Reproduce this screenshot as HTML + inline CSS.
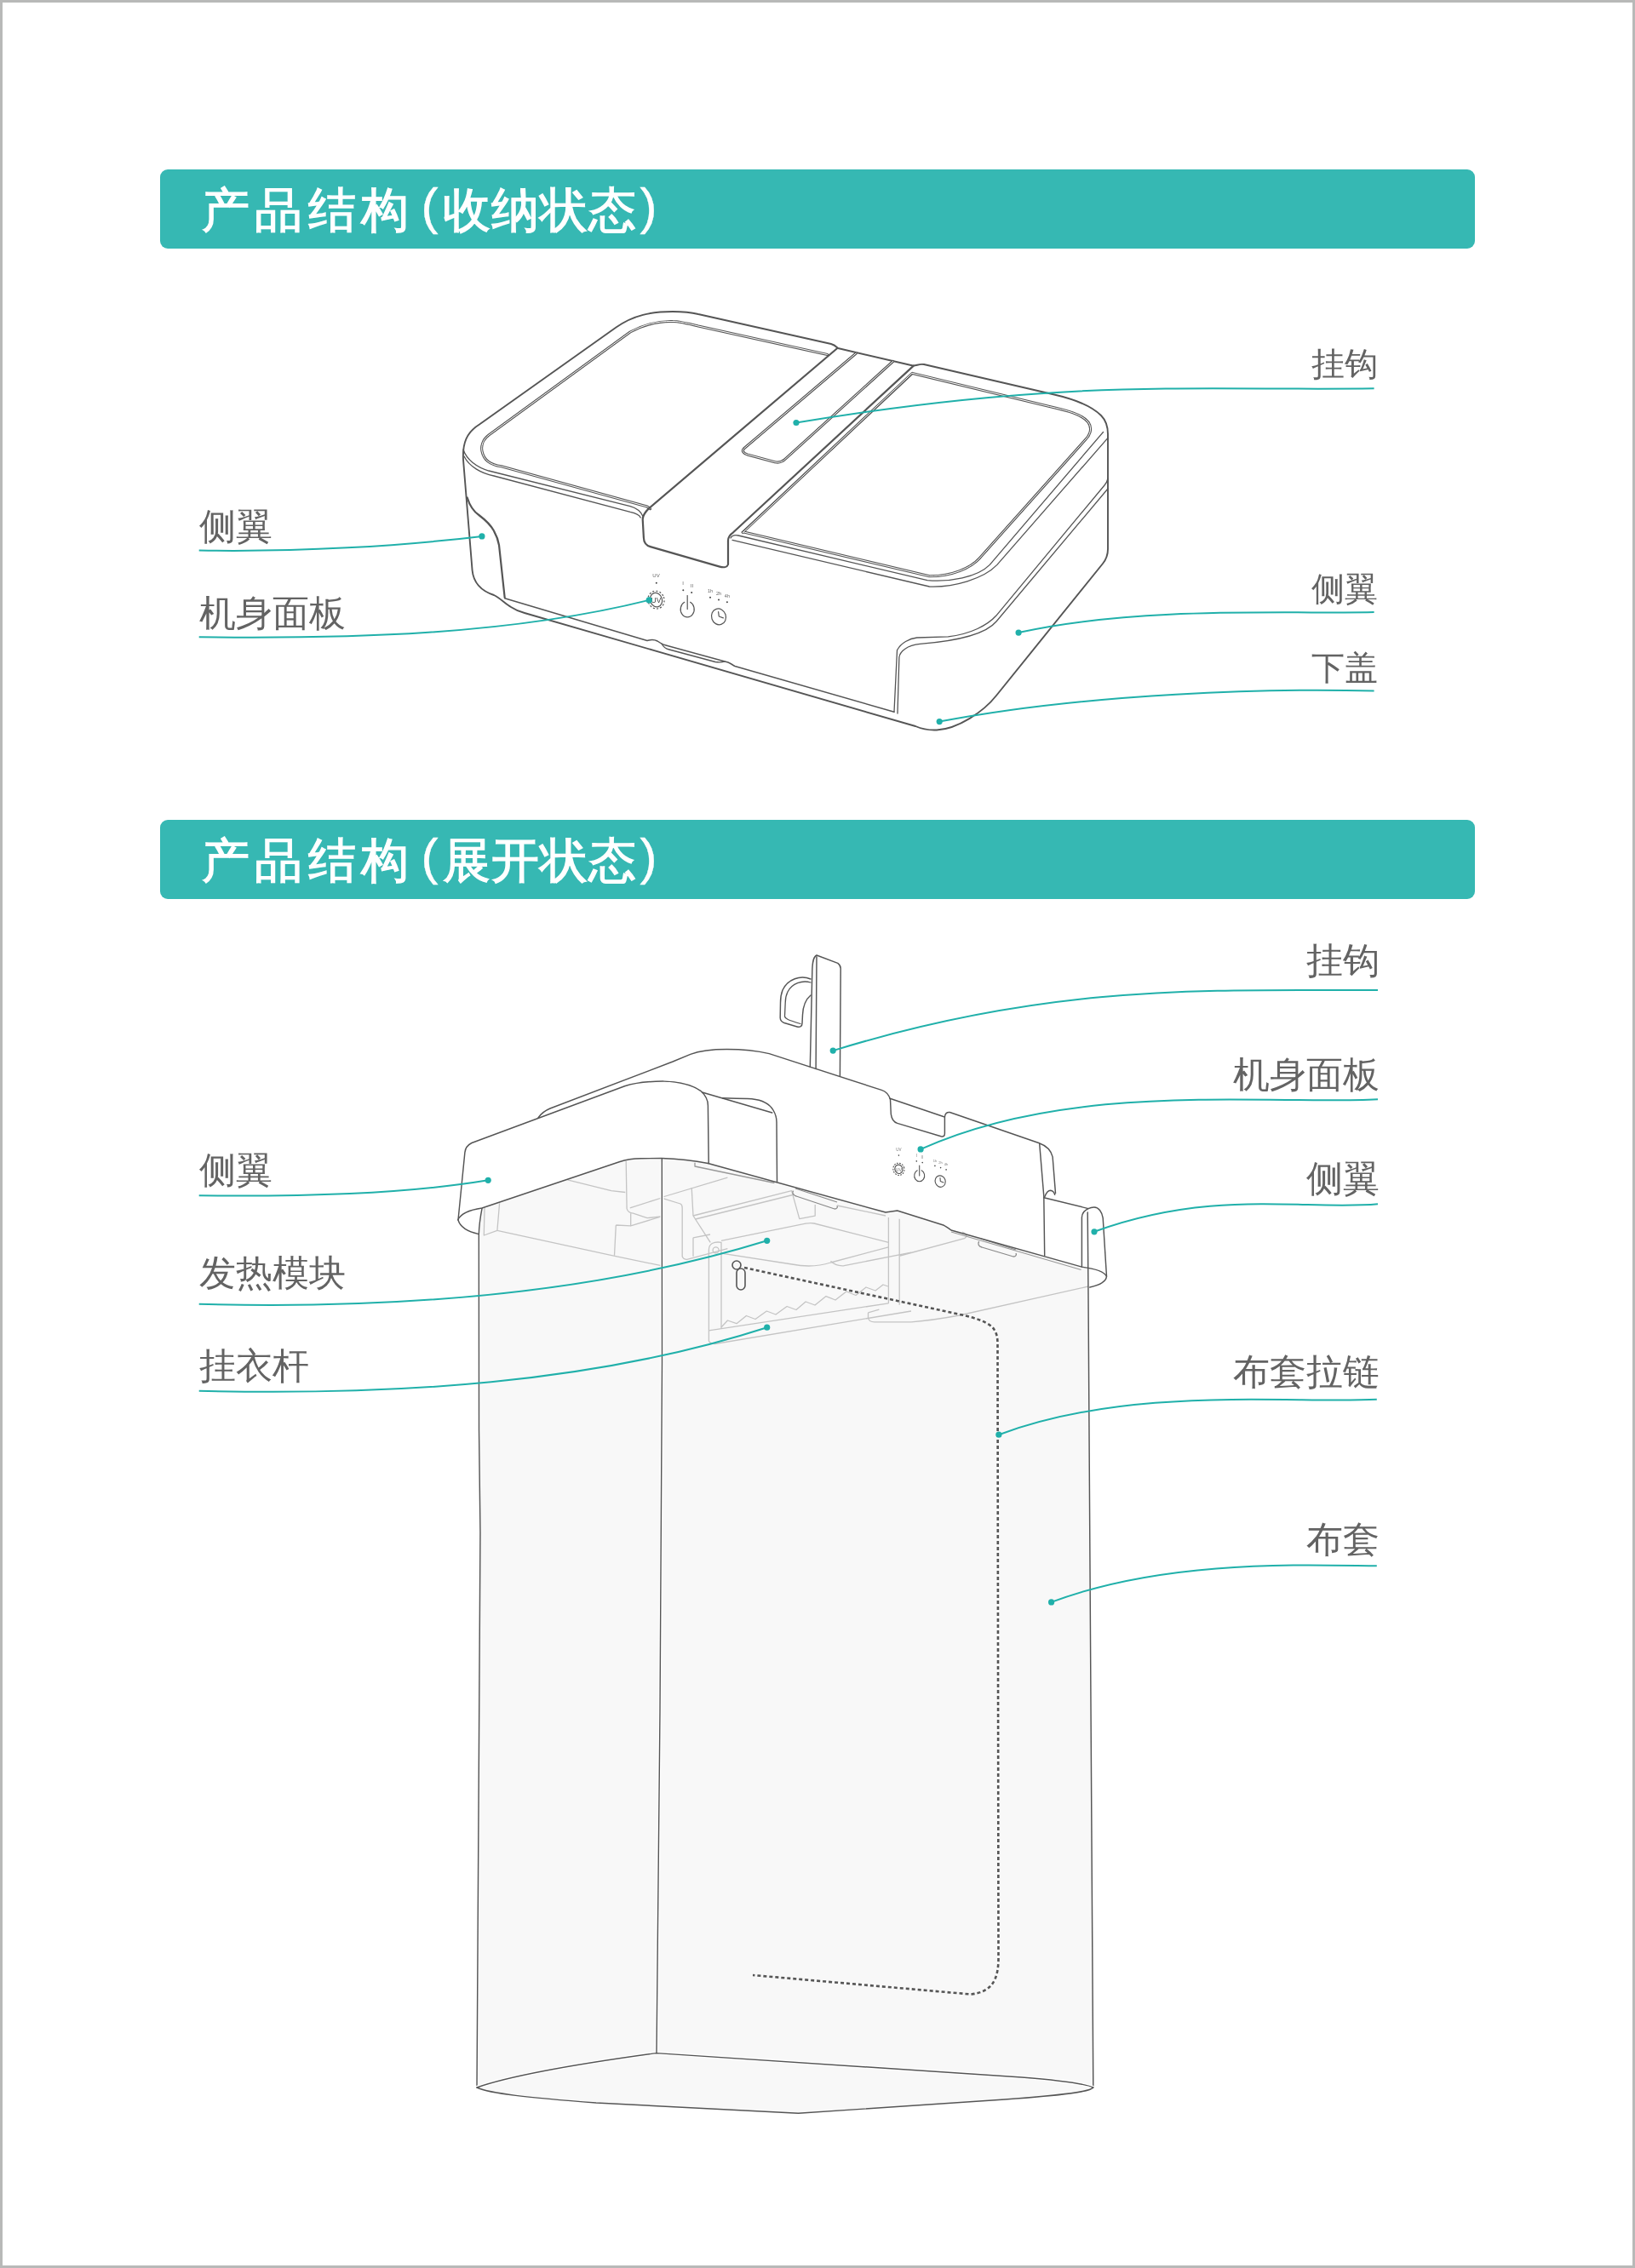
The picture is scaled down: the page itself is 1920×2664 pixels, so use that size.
<!DOCTYPE html>
<html><head><meta charset="utf-8">
<style>
html,body{margin:0;padding:0;background:#fff;}
body{width:1920px;height:2664px;position:relative;overflow:hidden;font-family:"Liberation Sans",sans-serif;}
#frame{position:absolute;left:0;top:0;width:1914px;height:2658px;border:3px solid #b8b9b8;}
.bar{position:absolute;left:188px;width:1544px;height:93px;background:#36b8b3;border-radius:9px;}
.bar span{will-change:transform;position:absolute;left:49px;top:11px;font-size:56px;line-height:72px;color:#fff;-webkit-text-stroke:1.4px #fff;white-space:nowrap;letter-spacing:6.4px;}
.bar i{font-style:normal;display:inline-block;letter-spacing:0;}
.bar .po{position:relative;top:-3px;margin-left:8px;margin-right:5px;font-size:60px;-webkit-text-stroke:0.4px #fff;}
.bar .pc{position:relative;top:-3px;margin-left:4px;font-size:60px;-webkit-text-stroke:0.4px #fff;}
.bar .g2{letter-spacing:1px;}
.lb{position:absolute;font-size:43px;line-height:50px;color:#636363;white-space:nowrap;will-change:transform;}
.r{text-align:right;}
.s39{font-size:39px;}
svg{position:absolute;left:0;top:0;}
</style></head><body>
<div id="frame"></div>
<div class="bar" style="top:199px"><span>产品结构<i class="po">(</i><i class="g2">收纳状态</i><i class="pc">)</i></span></div>
<div class="bar" style="top:963px"><span>产品结构<i class="po">(</i><i class="g2">展开状态</i><i class="pc">)</i></span></div>

<!-- fig1 labels -->
<div class="lb" style="left:234px;top:593px">侧翼</div>
<div class="lb" style="left:234px;top:695px">机身面板</div>
<div class="lb r s39" style="right:302px;top:403px">挂钩</div>
<div class="lb r s39" style="right:302px;top:667px">侧翼</div>
<div class="lb r s39" style="right:302px;top:760px">下盖</div>
<!-- fig2 labels -->
<div class="lb r" style="right:300px;top:1103px">挂钩</div>
<div class="lb r" style="right:300px;top:1237px">机身面板</div>
<div class="lb r" style="right:300px;top:1359px">侧翼</div>
<div class="lb r" style="right:300px;top:1586px">布套拉链</div>
<div class="lb r" style="right:300px;top:1783px">布套</div>
<div class="lb" style="left:234px;top:1349px">侧翼</div>
<div class="lb" style="left:234px;top:1470px">发热模块</div>
<div class="lb" style="left:234px;top:1579px">挂衣杆</div>

<svg width="1920" height="2664" viewBox="0 0 1920 2664">

<g fill="none" stroke="#555" stroke-width="1.45" stroke-linejoin="round" stroke-linecap="round">
<!-- outer silhouette -->
<path stroke-width="1.9" d="M563,498.5 C548,508 543,520 544,540 L554.6,670 C556,684 565,694 580,699 C588,703 593,709 600,713 C606,717 610,718.5 616,720 L1075,853 C1082,856 1090,858 1100,857.5 C1125,856 1155,836 1170,817 L1295,662 C1299,657 1301,652 1301,645 L1301,510 C1301,501 1299,494 1293,488 C1282,477 1262,469 1238,463.5 L1085,428 C1079,427 1076,430 1072,429.5 L984,409 C982,407 980,405 976,404 L820,369 C812,367 802,366 790,366 C765,366 744,370 723.5,384.5 Z"/>
<!-- rim lower edges left -->
<path d="M544,528 C548,540 560,549 574,553 L740,594.7 C748,597 752,600 754.7,606" stroke-width="1.3"/>
<path d="M545,536 C551,548 565,556 580,559 L740,601.4 C747,603 751,605 752.2,608" stroke-width="1.3"/>
<!-- left panel -->
<path d="M971.5,416.4 L820,383 C808,380 798,377.5 790,377.5 C770,377 755,382 740,390 L574,511 C566,517 565,525 566,530 C568,540 575,546 588.7,547.8 L759,594.8 C762,596 763,597 763.5,597.8" stroke-width="3.1"/><path d="M971.5,416.4 L820,383 C808,380 798,377.5 790,377.5 C770,377 755,382 740,390 L574,511 C566,517 565,525 566,530 C568,540 575,546 588.7,547.8 L759,594.8 C762,596 763,597 763.5,597.8" stroke="#fff" stroke-width="1"/>
<!-- strap -->
<path d="M983.3,409 L762,597.1 C756,603 754.7,606 754.7,610 L755.9,631.4 C756,637 759,641 764.5,642.4 L845.2,665.6 C850,667 854,666 855,663 L855,635 C855,631 857,628 861.1,625.3 L1072.8,429.6" stroke-width="2.2"/>
<path d="M1005.3,415 L874,526.5 C871,529 872,532 877.6,533.9 L910,542.7 C915,544 919,542 921.6,539.7 L1048.6,424.5" stroke-width="3.1"/><path d="M1005.3,415 L874,526.5 C871,529 872,532 877.6,533.9 L910,542.7 C915,544 919,542 921.6,539.7 L1048.6,424.5" stroke="#fff" stroke-width="1"/>
<!-- right panel -->
<path d="M1071.4,438.4 L1232.5,477.5 C1252,482 1270,486 1278,496 C1283,503 1280,511 1275,516 L1150,656 C1140,667 1118,677 1091.4,676.8 L874.6,625.3 C873,625 872,625 872.1,625.3 Z" stroke-width="3.1"/><path d="M1071.4,438.4 L1232.5,477.5 C1252,482 1270,486 1278,496 C1283,503 1280,511 1275,516 L1150,656 C1140,667 1118,677 1091.4,676.8 L874.6,625.3 C873,625 872,625 872.1,625.3 Z" stroke="#fff" stroke-width="1"/>
<!-- rim lines right -->
<path d="M1295.5,507.5 L1162.3,663.4 C1148,678 1115,684 1089,681.7 L867,629 C862,628 859,630 858,632" stroke-width="1.3"/>
<path d="M1301,514.4 L1170.9,663.4 C1155,680 1120,690 1091.4,689 L860,634.4" stroke-width="1.3"/>
<!-- right wing -->
<path d="M1301,562 C1300,566 1299,568 1297,570 L1169.7,723.3 C1160,734 1140,745 1113.4,747.8 L1076.7,749 C1068,750 1058,755 1053.5,763.7 L1050,836" stroke-width="1.3"/>
<path d="M1301,574 L1170,730 C1160,742 1135,752 1080.4,756.4 C1065,758 1057,765 1055.9,772 L1054,838" stroke-width="1.3"/>
<!-- left wing inner -->
<path d="M548.7,584.5 C551,592 555,600 562.4,605 C569,610 576,616 580,623.6 C583,629 585,634 586,640.2 L592.7,702" stroke-width="2.2"/>
<!-- bottom upper line -->
<path d="M592.7,702.7 L760,752.5 C765,751 768,751 772,753 C776,756 778,757 782,758 L855,778 C858,779 860,781 863,782.5 L1050,836.25" stroke-width="1.5"/>
<path d="M777,756 C779,760 781,762 786,763 L840,777.5 C844,778 848,778 851,777" stroke-width="1.3"/>
<!-- control panel -->
<g stroke-width="1.2">
<ellipse transform="rotate(-18 770.5 704.6)" cx="770.5" cy="704.6" rx="7" ry="8.4"/>
<ellipse transform="rotate(-18 770.5 704.6)" cx="770.5" cy="704.6" rx="9.5" ry="10.5" stroke-dasharray="1.2 3" />
<path d="M803.8,707.3 A8,9.2 0 1 0 810.6,707.3"/>
<path d="M807.2,699.5 L807.2,715.6"/>
<ellipse transform="rotate(-18 844 724.4)" cx="844" cy="724.4" rx="8.4" ry="9.5"/>
<path d="M843.6,718.6 L844.3,724 L849.4,725.9"/>
</g>
</g>
<g fill="#444">
<circle cx="770.8" cy="684.8" r="1"/><circle cx="802.3" cy="693.3" r="1"/><circle cx="812.2" cy="696" r="1"/>
<circle cx="834" cy="701.7" r="1"/><circle cx="844" cy="704.6" r="1"/><circle cx="853.9" cy="707.2" r="1"/>
</g>
<g fill="#666" font-family="Liberation Sans, sans-serif" text-anchor="middle">
<text x="770.5" y="678" font-size="6">UV</text>
<text x="770.5" y="708" font-size="8.5" fill="#444">UV</text>
<text x="802.1" y="687" font-size="6">I</text>
<text x="812.4" y="690" font-size="6">II</text>
<text x="834" y="696" font-size="5.5">1h</text>
<text x="844" y="698.5" font-size="5.5">2h</text>
<text x="853.9" y="701.5" font-size="5.5">4h</text>
</g>
<!-- leaders fig1 -->
<g fill="none" stroke="#20b0aa" stroke-width="2">
<path d="M935.0,496.5 C1250.0,443.9 1401.5,459.1 1613.6,456.3"/>
<path d="M1196.1,743.1 C1340.3,710.9 1527.3,721.6 1613.6,719.1"/>
<path d="M1103.2,847.6 C1279.9,813.8 1496.2,808.2 1613.6,811.6"/>
<path d="M565.9,629.9 C470.8,641.5 350.8,648.6 233.7,646.6"/>
<path d="M762.2,704.9 C597.2,746.0 412.4,750.4 233.7,748.3"/>
</g>
<g fill="#20b0aa">
<circle cx="935" cy="496.5" r="3.6"/><circle cx="1196.1" cy="743.1" r="3.6"/><circle cx="1103.2" cy="847.6" r="3.6"/>
<circle cx="565.9" cy="629.9" r="3.6"/><circle cx="762.2" cy="704.9" r="3.6"/>
</g>
<!-- ===== FIG 2 ===== -->
<path fill="#f8f8f8" stroke="none" d="M566,1419 L727.2,1364.7 C735,1362 745,1360.7 752.6,1360.7 L777,1360.5 C795,1361 812,1362.5 831.6,1366.5 L1040,1424 L1053.7,1422 L1108.5,1439.3 L1117,1445 L1277.5,1490 L1283.8,2452 C1280,2457 1250,2461 1180,2466 L937.5,2482.3 L700,2470 C620,2464 575,2459 560,2452 L562.5,1450 Z"/>
<!-- light gray interior -->
<g fill="none" stroke="#c4c4c4" stroke-width="1.3" stroke-linejoin="round">
<path d="M569,1419 L568.3,1451 L583.9,1445.4 L586.6,1413.3"/>
<path d="M583.9,1445.4 L719.6,1474.8 L776.5,1486.7"/>
<path d="M666.4,1385.8 L717.8,1398.6 L734.3,1400.5"/>
<path d="M735.2,1363.8 L736.1,1419.7 C737,1423 740,1425 743.5,1425.2 L760,1430.7 L776.5,1428.9"/>
<path d="M739.8,1418.8 L777,1407"/>
<path d="M740.7,1425.2 L740.7,1439.9 L776.5,1428.9"/>
<path d="M723.3,1439 L721.5,1474.8 M723.3,1439 L740.7,1439.9"/>
<path d="M778.3,1406 L854.4,1383.1"/>
<path d="M779.2,1407.9 L799,1414 C801,1415 801.2,1417 801.2,1419 L801.2,1475.8 C802,1478 804,1479.4 806.7,1479.4 L854.4,1466.6"/>
<path d="M812.2,1395 L814,1428 L834.2,1459.3"/>
<path d="M814,1428 L929.6,1398.7 L938.8,1431.7 L957.2,1428.1 L957.2,1415"/>
<path d="M816.8,1432 L933,1403"/>
<path d="M814,1453.8 L814,1475.8 M814,1453.8 L834,1450"/>
<path d="M832.4,1574.9 L832.4,1468 C832.4,1461 838,1458 847,1459.3 L847,1560.2"/>
<circle cx="840.6" cy="1468.4" r="3.5"/>
<path d="M832.4,1562.9 L1043.4,1530.8"/>
<path d="M832.4,1574.9 C833,1577.5 835,1578.5 839.7,1578.5 L1070,1540"/>
<path d="M1043.4,1429.9 L1043.4,1531 M1056.2,1431.7 L1056.2,1532.7"/>
<path d="M847,1559 L854.4,1551 L865,1554.7 L876.4,1545.5 L887,1549.5 L900.3,1540 L911,1544 L924.1,1534.5 L935,1538.5 L946.1,1529 L957,1533 L970,1522.6 L981,1527 L993.9,1517 L1005,1521.5 L1017,1512 L1028,1516 L1037,1509 L1043,1511"/>
<path d="M847,1457.4 L946.1,1437.2 C950,1436.4 953,1436.3 956,1437 L1043.4,1459.3"/>
<path d="M847,1472.1 L930,1485 C945,1488 960,1488 975.5,1483 L1043.4,1464.8"/>
<path d="M975.5,1481.3 C980,1486 985,1487 990.2,1486.8 L1070,1471.2"/>
<path d="M1019.5,1541.8 L1019.5,1548 C1020,1551 1023,1552.8 1026.9,1552.8 L1070,1552.8 M1019.5,1541.8 L1032.4,1538.2"/>
<path d="M1057,1475 L1132.5,1454.7 C1137,1452 1135,1449 1130,1447"/>
<path d="M1278,1511 L1126.5,1545 C1100,1550 1080,1552 1070,1552.8"/>
<path stroke="#8a8a8a" d="M931.5,1398.7 C930,1401 931,1404 935,1405 L980,1420 C983,1420 984,1418 983,1416 M934,1396 L983,1412"/>
<path stroke="#8a8a8a" d="M1149.6,1458.1 C1148,1461 1149,1464 1153,1465 L1190,1476 C1193,1476 1194,1474 1193,1472 M1152,1455 L1193,1468"/>
<path stroke="#999" d="M816,1365.7 L816,1370 L909.4,1389.5"/>
<path d="M983,1416 L1040,1428"/>
<path stroke="#999" d="M1117,1447 L1269.5,1491.5"/>
</g>
<!-- dark outlines -->
<g fill="none" stroke="#555" stroke-width="1.45" stroke-linejoin="round" stroke-linecap="round">
<path d="M951.3,1253 L953.8,1140.8 C954,1130 955,1124 959,1122 L983.8,1131.4 C986,1133 987.2,1135 987.2,1137.4 L986.4,1264.1"/>
<path d="M959,1123.7 L958.1,1255.6"/>
<path d="M952,1150 C940,1145 925,1150 919,1163 C917,1168 916.5,1173 916.5,1178 L916.2,1195.6 C916.3,1199 918,1200.5 921,1201.5 L936,1206 C939.5,1207 942,1205.5 942,1202 L942.5,1192 C943,1182 946,1174 952,1169"/>
<path d="M952,1154 C942,1151 930,1155 925,1165 C923,1169 922.2,1173 922.2,1178 L921.5,1194 C922,1196.5 925,1198 940,1202.5" stroke-width="1.3"/>
<path d="M632,1313 C636,1307 640,1304.5 646,1302 L790,1247 L810.8,1238.4 C825,1233 840,1232.5 853.6,1232.5 C870,1232.5 888,1234 903.3,1237.6 L1035.2,1280.4 C1040,1282 1044,1286 1045.5,1291.5 L1046.3,1308.7 C1047,1314 1049,1318 1053.7,1319.4 L1105,1334.8 C1108,1335.5 1109.4,1334 1109.4,1331.4 L1109.4,1312.5 C1109.5,1308 1112,1306 1115.4,1306.5 L1219.8,1342.5 C1228,1345.5 1234,1350 1236.1,1358.8 L1239.5,1401.6"/>
<path d="M1045.1,1290.3 L1108.5,1311.7"/>
<path d="M1220.7,1343.4 L1225.8,1405 L1226.7,1474.4"/>
<path d="M1226.7,1405.9 C1229,1400 1231,1398.2 1233.5,1398.2 C1236,1398.5 1238,1400.5 1238.7,1403.3"/>
<path d="M1225.8,1406.7 L1278,1419.6 C1281,1418 1283,1417.9 1284.9,1417.9 C1290,1418 1294,1423 1295.2,1430.7 L1299.5,1499.2 C1299,1504 1294,1509 1279.8,1512"/>
<path d="M1278,1419.6 C1273,1422 1270.4,1425 1270.4,1430 L1270.4,1488.1 C1285,1490 1297,1494 1299.5,1499.2"/>
<path d="M1277.2,1423.9 L1278,1520 L1283.8,2452"/>
<path d="M831.6,1366.5 L1040,1424 L1053.7,1422 L1108.5,1439.3 C1112,1441 1114,1443 1117,1445 L1270.4,1488.1"/>
<path d="M538,1433 L545.9,1353.6 C546.5,1348 549,1345 553.9,1342.5 L733.6,1275.7 C745,1272 760,1270 780,1270.1 C795,1270.5 812,1274 822.8,1281.3 C829,1287 831.4,1293 831.4,1298.4 L832.2,1366"/>
<path d="M538,1432.5 C541,1426 549,1421.5 566,1419 L727.2,1364.7 C735,1362 745,1360.7 752.6,1360.7 L777,1360.5 C795,1361 812,1362.5 831.6,1366.5"/>
<path d="M538,1433 C540,1440 546,1446 562.3,1449.6"/>
<path d="M824.5,1283 L906.7,1307"/>
<path d="M848.5,1289.8 C860,1290 872,1290 882.8,1290.7 C895,1292 904,1297 908,1304 C911,1309 912,1313 912,1318 L912.5,1388"/>
<path d="M566,1419.5 C564,1430 562.5,1442 562.3,1450 L562.5,1680 L564,1800 L560,2452" stroke-width="1.4"/>
<path d="M777.3,1366 L777.5,1600 L775,2010 L771,2411.6" stroke="#fff" stroke-width="4"/><path d="M560,2452 C600,2438 680,2424 771,2411.6 L1200,2440 C1250,2444 1275,2448 1283.8,2452" stroke="#fff" stroke-width="4"/>
<path d="M777.3,1361 L777.5,1600 L775,2010 L771,2411.6" stroke-width="1.4"/>
<path d="M560,2452 C600,2438 680,2424 771,2411.6 L1200,2440 C1250,2444 1275,2448 1283.8,2452" stroke-width="1.4"/>
<path d="M560,2452 C575,2459 620,2464 700,2470 L937.5,2482.3 L1180,2466 C1250,2461 1280,2457 1283.8,2452" stroke-width="1.4"/>
<g stroke-width="1.1">
<ellipse transform="rotate(-18 1055.4 1373.3)" cx="1055.4" cy="1373.3" rx="4.5" ry="5.2"/>
<ellipse transform="rotate(-18 1055.4 1373.3)" cx="1055.4" cy="1373.3" rx="6.5" ry="7.2" stroke-dasharray="1 2.2"/>
<path d="M1077.2,1374.8 A6,6.8 0 1 0 1082.2,1374.8"/>
<path d="M1079.7,1369 L1079.7,1381"/>
<ellipse transform="rotate(-18 1104.2 1387.6)" cx="1104.2" cy="1387.6" rx="6" ry="6.8"/>
<path d="M1104,1383.5 L1104.3,1387.5 L1108,1389"/>
</g>
</g>
<g fill="#444">
<circle cx="1055.4" cy="1357.1" r="0.8"/><circle cx="1076.3" cy="1363.9" r="0.8"/><circle cx="1083.2" cy="1365.6" r="0.8"/>
<circle cx="1097.9" cy="1369.4" r="0.8"/><circle cx="1104.6" cy="1371.6" r="0.8"/><circle cx="1111.1" cy="1373.9" r="0.8"/>
</g>
<g fill="#777" font-family="Liberation Sans, sans-serif" text-anchor="middle">
<text x="1055.4" y="1352" font-size="4.5">UV</text>
<text x="1055.4" y="1375.5" font-size="5.5">UV</text>
<text x="1076.3" y="1359" font-size="4.5">I</text>
<text x="1082.8" y="1360.5" font-size="4.5">II</text>
<text x="1097.9" y="1365" font-size="4">1h</text>
<text x="1104.6" y="1366.5" font-size="4">2h</text>
<text x="1111.1" y="1369" font-size="4">4h</text>
</g>
<!-- zipper -->
<path fill="none" stroke="#555" stroke-width="2.6" stroke-dasharray="4 3" d="M874,1489 L1126.5,1543.75 C1150,1549 1162,1554 1167,1561 C1171,1567 1171.5,1572 1171.5,1580 L1172.5,2300 C1172.5,2325 1165,2340 1140,2342.5 L884,2320"/>
<g fill="#f8f8f8" stroke="#555" stroke-width="1.6">
<rect x="865" y="1490" width="10" height="25" rx="5"/>
<circle cx="865" cy="1486" r="5"/>
</g>
<!-- leaders fig2 -->
<g fill="none" stroke="#20b0aa" stroke-width="2">
<path d="M978.2,1234.1 C1236.4,1154.6 1421.6,1163.4 1618.0,1163.0"/>
<path d="M1081.1,1349.9 C1259.3,1269.2 1488.3,1297.9 1618.0,1291.2"/>
<path d="M1285.0,1446.8 C1425.0,1395.4 1535.2,1422.3 1618.0,1414.3"/>
<path d="M1172.9,1685.2 C1329.0,1627.0 1516.1,1648.9 1616.8,1643.8"/>
<path d="M1234.6,1881.9 C1370.4,1830.8 1535.7,1838.5 1616.8,1839.3"/>
<path d="M573.2,1386.3 C471.6,1403.0 354.4,1405.4 233.7,1404.3"/>
<path d="M900.7,1457.3 C693.0,1521.5 461.5,1537.9 233.7,1531.8"/>
<path d="M900.7,1559.2 C696.4,1625.2 463.3,1639.2 233.7,1633.7"/>
</g>
<g fill="#20b0aa">
<circle cx="978.2" cy="1234.1" r="3.6"/><circle cx="1081.1" cy="1349.9" r="3.6"/><circle cx="1285" cy="1446.8" r="3.6"/>
<circle cx="1172.9" cy="1685.2" r="3.6"/><circle cx="1234.6" cy="1881.9" r="3.6"/><circle cx="573.2" cy="1386.3" r="3.6"/>
<circle cx="900.7" cy="1457.3" r="3.6"/><circle cx="900.7" cy="1559.2" r="3.6"/>
</g>
</svg>
</body></html>
